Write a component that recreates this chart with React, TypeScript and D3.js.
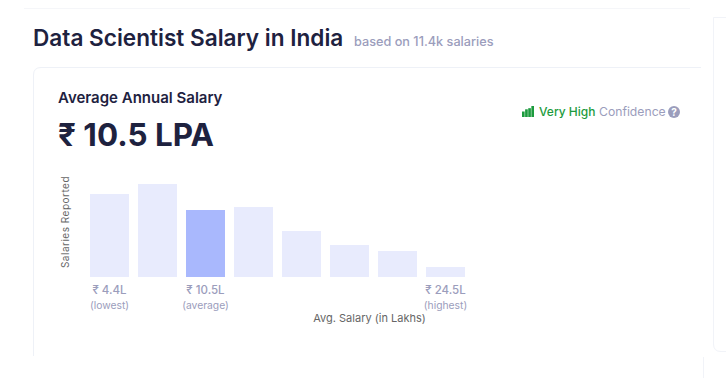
import React from "react";
import * as d3 from "d3";

const categories = ["b1", "b2", "b3", "b4", "b5", "b6", "b7", "b8"];
const salariesReported = [83, 93, 67, 70, 46, 32, 26, 10];
const averageCategory = "b3";
const tickLabels = [
  { category: "b1", top: "₹ 4.4L", bottom: "(lowest)" },
  { category: "b3", top: "₹ 10.5L", bottom: "(average)" },
  { category: "b8", top: "₹ 24.5L", bottom: "(highest)" },
];
const confidenceBars = [5, 7, 8, 10];

const FONT = "Inter, 'Noto Sans', sans-serif";
const DARK = "#1e223f";
const MUTED = "#9b9dbc";
const BAR = "#e8ebfd";
const BAR_ACTIVE = "#a9b8fd";
const GREEN = "#1c9b3e";
const BORDER = "#eef1f7";

export default function App() {
  const x = d3.scaleBand<string>().domain(categories).range([90, 465]).paddingInner(9 / 48).paddingOuter(0);
  const y = d3.scaleLinear().domain([0, 100]).range([277, 177]);
  const bw = x.bandwidth();
  const confX = d3.scaleBand<number>().domain(d3.range(confidenceBars.length)).range([522, 534]).paddingInner(0.15);
  const confY = d3.scaleLinear().domain([0, 10]).range([117, 106]);

  return (
    <svg width={726} height={378} viewBox="0 0 726 378" style={{ position: "fixed", left: 0, top: 0, background: "#fff" }} fontFamily={FONT}>
      <line x1={24} x2={690} y1={8.5} y2={8.5} stroke="#f5f6f9" />
      <path d="M726 17.5 H713.5 V344 Q713.5 351.5 721 351.5 H726" fill="none" stroke="#f1f3f8" />
      <path d="M703.5 357 V378" fill="none" stroke="#f1f3f8" />
      <path d="M33.5 356 V75 Q33.5 67.5 41 67.5 H701" fill="none" stroke={BORDER} />

      <text x={33} y={46} fontSize={22.6} fontWeight={600} fill={DARK}>Data Scientist Salary in India</text>
      <text x={354} y={46} fontSize={12.7} fontWeight={500} fill={MUTED}>based on 11.4k salaries</text>
      <text x={58} y={103} fontSize={15} fontWeight={600} fill={DARK}>Average Annual Salary</text>
      <text x={58} y={146} fontSize={31.4} fontWeight={650} fill={DARK}>₹ 10.5 LPA</text>

      {confidenceBars.map((v, i) => (
        <rect key={i} x={confX(i)} y={confY(v)} width={confX.bandwidth()} height={confY(0) - confY(v)} fill={GREEN} />
      ))}
      <text x={539} y={116} fontSize={12} fill={GREEN} fontWeight={500}>Very High</text>
      <text x={599} y={116} fontSize={12.2} fill={MUTED}>Confidence</text>
      <circle cx={674} cy={112} r={6} fill={MUTED} />
      <text x={674} y={115.5} textAnchor="middle" fontSize={10} fontWeight={700} fill="#fff">?</text>

      <text transform="translate(69,222) rotate(-90)" textAnchor="middle" fontSize={10} fill="#666" letterSpacing={0.5}>Salaries Reported</text>

      {categories.map((c, i) => (
        <rect key={c} x={x(c)} y={y(salariesReported[i])} width={bw} height={y(0) - y(salariesReported[i])} fill={c === averageCategory ? BAR_ACTIVE : BAR} />
      ))}

      {tickLabels.map((t) => {
        const cx = (x(t.category) as number) + bw / 2;
        return (
          <g key={t.category} textAnchor="middle" fill={MUTED}>
            <text x={cx} y={294} fontSize={11.5} fontWeight={500}>{t.top}</text>
            <text x={cx} y={309} fontSize={10.3}>{t.bottom}</text>
          </g>
        );
      })}
      <text x={369.5} y={322} textAnchor="middle" fontSize={11} fill="#666">Avg. Salary (in Lakhs)</text>
    </svg>
  );
}
